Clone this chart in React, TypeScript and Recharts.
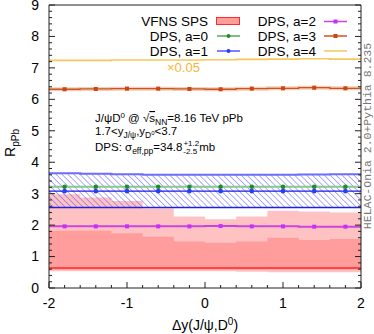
import React from "react";
import { ComposedChart, Area, Line, XAxis, YAxis, ReferenceLine } from "recharts";

// bin edges in delta-y, 10 bins of 0.4
const binEdges = [-2, -1.6, -1.2, -0.8, -0.4, 0, 0.4, 0.8, 1.2, 1.6, 2];

// VFNS SPS: outer (light) and inner (dark) uncertainty bands, central value
const spsOuterLow = [0.53, 0.53, 0.53, 0.53, 0.53, 0.53, 0.52, 0.5, 0.5, 0.5];
const spsOuterHigh = [2.98, 2.88, 2.77, 2.53, 2.27, 2.19, 2.27, 2.46, 2.43, 2.4];
const spsInnerLow = [0.58, 0.58, 0.58, 0.58, 0.58, 0.58, 0.58, 0.58, 0.58, 0.58];
const spsInnerHigh = [1.82, 1.82, 1.74, 1.63, 1.48, 1.44, 1.48, 1.6, 1.53, 1.56];
const spsCentral = [0.64, 0.64, 0.64, 0.64, 0.64, 0.64, 0.64, 0.64, 0.64, 0.64];

// DPS hatched band
const dpsBandLow = [2.56, 2.56, 2.56, 2.56, 2.56, 2.56, 2.56, 2.56, 2.56, 2.56];
const dpsBandHigh = [3.65, 3.63, 3.62, 3.6, 3.6, 3.6, 3.6, 3.6, 3.61, 3.62];

// DPS curves
const dpsA0 = [3.22, 3.22, 3.22, 3.22, 3.22, 3.22, 3.22, 3.22, 3.22, 3.22];
const dpsA1 = [3.08, 3.08, 3.08, 3.08, 3.08, 3.08, 3.08, 3.08, 3.08, 3.08];
const dpsA2 = [1.96, 1.96, 1.96, 1.96, 1.96, 1.97, 1.96, 1.96, 1.95, 1.95];
const dpsA3 = [6.32, 6.33, 6.34, 6.34, 6.33, 6.32, 6.34, 6.35, 6.37, 6.35];
const dpsA4 = [7.24, 7.24, 7.25, 7.25, 7.25, 7.26, 7.27, 7.28, 7.29, 7.28];

const xTicks = Array.from({ length: 21 }, (_, i) => -2 + i * 0.2);
const yTicks = Array.from({ length: 46 }, (_, i) => i * 0.2);

const rows: any[] = [];
for (let i = 0; i < binEdges.length - 1; i++) {
  const lo = binEdges[i];
  const hi = binEdges[i + 1];
  const vals = {
    spsOuter: [spsOuterLow[i], spsOuterHigh[i]],
    spsInner: [spsInnerLow[i], spsInnerHigh[i]],
    spsC: spsCentral[i],
    band: [dpsBandLow[i], dpsBandHigh[i]],
    bandLo: dpsBandLow[i],
    bandHi: dpsBandHigh[i],
    a0: dpsA0[i],
    a1: dpsA1[i],
    a2: dpsA2[i],
    a3: dpsA3[i],
    a4: dpsA4[i],
  };
  rows.push({ x: lo, mid: false, ...vals });
  rows.push({ x: (lo + hi) / 2, mid: true, ...vals });
  rows.push({ x: hi, mid: false, ...vals });
}

const font = "'Liberation Sans', Arial, sans-serif";
const frame = "#222";

const isMajor = (v: number) => Math.abs(v - Math.round(v)) < 1e-6;

function XTick({ x, y, payload }: any) {
  const v = payload.value;
  const major = isMajor(v);
  return (
    <g>
      <line x1={x} x2={x} y1={y} y2={y - (major ? 6 : 3)} stroke={frame} />
      {major && (
        <text x={x} y={y + 15} dy="0.35em" textAnchor="middle" fontSize={14} fontFamily={font} fill="#000">
          {Math.round(v)}
        </text>
      )}
    </g>
  );
}

function LeftTick({ x, y, payload }: any) {
  const v = payload.value;
  const major = isMajor(v);
  return (
    <g>
      <line x1={x} x2={x + (major ? 6 : 3)} y1={y} y2={y} stroke={frame} />
      {major && (
        <text x={x - 10} y={y} dy="0.35em" textAnchor="end" fontSize={14} fontFamily={font} fill="#000">
          {Math.round(v)}
        </text>
      )}
    </g>
  );
}

function RightTick({ x, y, payload }: any) {
  const major = isMajor(payload.value);
  return <line x1={x} x2={x - (major ? 6 : 3)} y1={y} y2={y} stroke={frame} />;
}

function marker(shape: "circle" | "square", color: string) {
  return (props: any) => {
    const { cx, cy, payload, index } = props;
    if (!payload || !payload.mid) return <g key={`n${index}`} />;
    if (shape === "circle")
      return <circle key={`c${index}`} cx={cx} cy={cy} r={2.3} fill={color} />;
    return <rect key={`s${index}`} x={cx - 2} y={cy - 2} width={4} height={4} fill={color} />;
  };
}

function LegendLine({ x, y, line, mark, shape }: any) {
  return (
    <g>
      <line x1={x} x2={x + 23} y1={y} y2={y} stroke={line} strokeWidth={1.5} />
      {shape === "circle" && <circle cx={x + 11.5} cy={y} r={2} fill={mark} />}
      {shape === "square" && <rect x={x + 9.5} y={y - 2} width={4} height={4} fill={mark} />}
    </g>
  );
}

export default function App() {
  const legendText = { fontSize: 13.5, fontFamily: font, fill: "#000", textAnchor: "end" as const };
  return (
    <div style={{ position: "absolute", left: 0, top: 0, width: 374, height: 334, background: "#fff" }}>
      <svg width={0} height={0} style={{ position: "absolute" }}>
        <defs>
          <pattern id="hatch" patternUnits="userSpaceOnUse" width={4.2} height={4.2} patternTransform="rotate(-45)">
            <line x1={0} y1={0} x2={0} y2={4.2} stroke="#4b4bff" strokeWidth={0.9} />
          </pattern>
        </defs>
      </svg>
      <ComposedChart
        width={374}
        height={334}
        data={rows}
        margin={{ top: 5, right: 0, bottom: 0, left: 0 }}
      >
        <XAxis
          type="number"
          dataKey="x"
          domain={[-2, 2]}
          ticks={xTicks}
          interval={0}
          tickSize={0}
          tickMargin={0}
          tick={<XTick />}
          height={46}
          axisLine={{ stroke: frame }}
          allowDataOverflow
        />
        <YAxis
          type="number"
          domain={[0, 9]}
          ticks={yTicks}
          interval={0}
          tickSize={0}
          tickMargin={0}
          tick={<LeftTick />}
          width={49}
          axisLine={{ stroke: frame }}
          allowDataOverflow
        />
        <YAxis
          yAxisId="r"
          orientation="right"
          type="number"
          domain={[0, 9]}
          ticks={yTicks}
          interval={0}
          tickSize={0}
          tickMargin={0}
          tick={<RightTick />}
          width={13}
          axisLine={{ stroke: frame }}
          allowDataOverflow
        />
        <Area dataKey="spsOuter" type="linear" fill="#ffc2c2" fillOpacity={1} stroke="none" isAnimationActive={false} />
        <Area dataKey="spsInner" type="linear" fill="#ff9c9c" fillOpacity={1} stroke="none" isAnimationActive={false} />
        <Line dataKey="spsC" type="linear" stroke="#ff2a2a" strokeWidth={1.5} dot={false} activeDot={false} isAnimationActive={false} />
        <Area dataKey="band" type="linear" fill="url(#hatch)" fillOpacity={1} stroke="none" isAnimationActive={false} />
        <Line dataKey="bandHi" type="linear" stroke="#6c6cff" strokeWidth={2} dot={false} activeDot={false} isAnimationActive={false} />
        <Line dataKey="bandLo" type="linear" stroke="#2020e0" strokeWidth={1.3} dot={false} activeDot={false} isAnimationActive={false} />
        <Line dataKey="a2" type="linear" stroke="#cc44dd" strokeWidth={2} dot={marker("square", "#c530ff")} activeDot={false} isAnimationActive={false} />
        <Line dataKey="a0" type="linear" stroke="#88c888" strokeWidth={2} dot={marker("circle", "#1f8f1f")} activeDot={false} isAnimationActive={false} />
        <Line dataKey="a1" type="linear" stroke="#1a1ae6" strokeWidth={1.2} dot={marker("circle", "#2a3cff")} activeDot={false} isAnimationActive={false} />
        <Line dataKey="a3" type="linear" stroke="#f2cdb8" strokeWidth={4} dot={false} activeDot={false} isAnimationActive={false} />
        <Line dataKey="a3" type="linear" stroke="#cc5522" strokeWidth={1.3} dot={marker("square", "#cc4411")} activeDot={false} isAnimationActive={false} />
        <Line dataKey="a4" type="linear" stroke="#f8c65a" strokeWidth={1.6} dot={false} activeDot={false} isAnimationActive={false} />
        <ReferenceLine y={9} stroke={frame} ifOverflow="extendDomain" />
      </ComposedChart>
      <svg width={374} height={334} style={{ position: "absolute", left: 0, top: 0, pointerEvents: "none" }}>
        {/* legend */}
        <rect x={216.5} y={17.5} width={23} height={7} fill="#ff9c9c" stroke="#ff2a2a" strokeWidth={1} />
        <text x={208} y={21.5} dy="0.35em" {...legendText}>VFNS SPS</text>
        <text x={208} y={36.5} dy="0.35em" {...legendText}>DPS, a=0</text>
        <LegendLine x={217} y={36} line="#55aa55" mark="#1f8f1f" shape="circle" />
        <text x={208} y={51.5} dy="0.35em" {...legendText}>DPS, a=1</text>
        <LegendLine x={217} y={51} line="#5555ff" mark="#2a3cff" shape="circle" />
        <text x={316} y={21.5} dy="0.35em" {...legendText}>DPS, a=2</text>
        <LegendLine x={324} y={21.5} line="#cc44dd" mark="#c530ff" shape="square" />
        <text x={316} y={36.5} dy="0.35em" {...legendText}>DPS, a=3</text>
        <LegendLine x={324} y={36} line="#cc5522" mark="#cc4411" shape="square" />
        <text x={316} y={51.5} dy="0.35em" {...legendText}>DPS, a=4</text>
        <LegendLine x={324} y={51} line="#f8c65a" shape="none" />

        <text x={167} y={67.5} dy="0.35em" fontSize={13} fontFamily={font} fill="#f5b534">×0.05</text>

        {/* annotation */}
        <g fontFamily={font} fontSize={11.5} fill="#000">
          <text x={95} y={122}>
            J/ψD<tspan dy={-4} fontSize={8}>0</tspan>
            <tspan dy={4}> @ √</tspan>
            <tspan textDecoration="overline">s</tspan>
            <tspan dy={3} fontSize={8.5}>NN</tspan>
            <tspan dy={-3}>=8.16 TeV pPb</tspan>
          </text>
          <text x={95} y={135}>
            1.7&lt;y<tspan dy={3} fontSize={8.5}>J/ψ</tspan>
            <tspan dy={-3}>,y</tspan>
            <tspan dy={3} fontSize={8.5}>D</tspan>
            <tspan dy={-3} fontSize={6}>0</tspan>
            <tspan>&lt;3.7</tspan>
          </text>
          <text x={95} y={151}>
            DPS: σ<tspan dy={3} fontSize={8.5}>eff,pp</tspan>
            <tspan dy={-3}>=34.8</tspan>
            <tspan dy={-5} dx={1} fontSize={8}>+1.2</tspan>
            <tspan dy={8} dx={-15.8} fontSize={8}>-2.5</tspan>
            <tspan dy={-3} dx={2}>mb</tspan>
          </text>
        </g>

        {/* axis titles */}
        <text transform="translate(15,143) rotate(-90)" textAnchor="middle" fontFamily={font} fontSize={14} fill="#000">
          R<tspan dy={4} fontSize={10}>pPb</tspan>
        </text>
        <text x={205} y={325} dy="0.35em" textAnchor="middle" fontFamily={font} fontSize={14} fill="#000">
          Δy(J/ψ,D<tspan dy={-5} fontSize={10}>0</tspan><tspan dy={5}>)</tspan>
        </text>

        <text
          transform="translate(371,136) rotate(-90)"
          textAnchor="middle"
          fontFamily="'Liberation Mono', 'DejaVu Sans Mono', monospace"
          fontSize={11.5}
          fill="#777"
        >
          HELAC-Onia 2.0+Pythia 8.235
        </text>
      </svg>
    </div>
  );
}
